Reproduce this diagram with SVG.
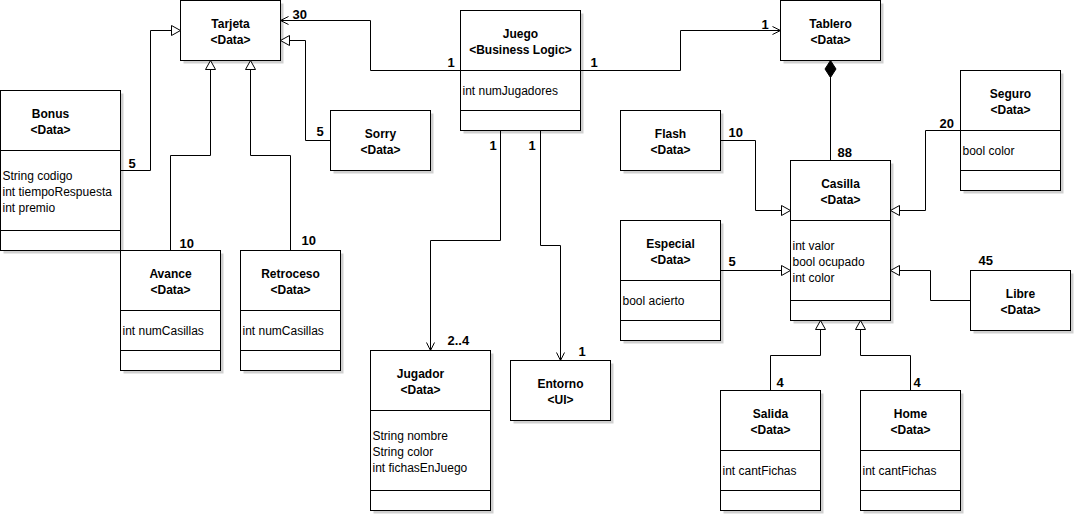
<svg xmlns="http://www.w3.org/2000/svg" width="1075" height="515" viewBox="0 0 1075 515">
<style>
.sh{fill:#d0d0d0;stroke:none}
.bx{fill:#fff;stroke:#000;stroke-width:1}
.sep{stroke:#000;stroke-width:1;fill:none}
.t{font-family:"Liberation Sans",Arial,sans-serif;font-size:12px;font-weight:bold;text-anchor:middle;fill:#000}
.a{font-family:"Liberation Sans",Arial,sans-serif;font-size:12px;fill:#000}
.m{font-family:"Liberation Sans",Arial,sans-serif;font-size:13px;font-weight:bold;fill:#000}
.c{fill:none;stroke:#000;stroke-width:1}
.assoc{marker-end:url(#open)}
.inh{marker-end:url(#tri)}
.comp{marker-end:url(#dia)}
</style>
<defs>
<marker id="open" markerUnits="userSpaceOnUse" markerWidth="10" markerHeight="10" refX="8" refY="4" orient="auto" overflow="visible"><path d="M0,0 L8,4 L0,8" fill="none" stroke="#000" stroke-width="1"/></marker>
<marker id="tri" markerUnits="userSpaceOnUse" markerWidth="12" markerHeight="12" refX="9" refY="5" orient="auto" overflow="visible"><path d="M0,0 L9,5 L0,10 Z" fill="#fff" stroke="#000" stroke-width="1"/></marker>
<marker id="dia" markerUnits="userSpaceOnUse" markerWidth="18" markerHeight="12" refX="17" refY="5.5" orient="auto" overflow="visible"><path d="M0,5.5 L8.5,0 L17,5.5 L8.5,11 Z" fill="#000" stroke="#000" stroke-width="1"/></marker>
</defs>
<g transform="translate(0.5,0.5)">
<g id="Tarjeta"><rect class="sh" x="183" y="3" width="100" height="60"/><rect class="bx" x="180" y="0" width="100" height="60"/><text class="t" x="230" y="27">Tarjeta</text><text class="t" x="230" y="43">&lt;Data&gt;</text></g>
<g id="Bonus"><rect class="sh" x="3" y="93" width="120" height="160"/><rect class="bx" x="0" y="90" width="120" height="160"/><path class="sep" d="M0,150 H120 M0,230 H120"/><text class="t" x="50" y="117">Bonus</text><text class="t" x="50" y="133">&lt;Data&gt;</text><text class="a" x="2" y="179">String codigo</text><text class="a" x="2" y="195">int tiempoRespuesta</text><text class="a" x="2" y="211">int premio</text></g>
<g id="Juego"><rect class="sh" x="463" y="13" width="120" height="120"/><rect class="bx" x="460" y="10" width="120" height="120"/><path class="sep" d="M460,70 H580 M460,110 H580"/><text class="t" x="520" y="37">Juego</text><text class="t" x="520" y="53">&lt;Business Logic&gt;</text><text class="a" x="462" y="94">int numJugadores</text></g>
<g id="Tablero"><rect class="sh" x="783" y="3" width="100" height="60"/><rect class="bx" x="780" y="0" width="100" height="60"/><text class="t" x="830" y="27">Tablero</text><text class="t" x="830" y="43">&lt;Data&gt;</text></g>
<g id="Sorry"><rect class="sh" x="333" y="113" width="100" height="60"/><rect class="bx" x="330" y="110" width="100" height="60"/><text class="t" x="380" y="137">Sorry</text><text class="t" x="380" y="153">&lt;Data&gt;</text></g>
<g id="Flash"><rect class="sh" x="623" y="113" width="100" height="60"/><rect class="bx" x="620" y="110" width="100" height="60"/><text class="t" x="670" y="137">Flash</text><text class="t" x="670" y="153">&lt;Data&gt;</text></g>
<g id="Seguro"><rect class="sh" x="963" y="73" width="100" height="120"/><rect class="bx" x="960" y="70" width="100" height="120"/><path class="sep" d="M960,130 H1060 M960,170 H1060"/><text class="t" x="1010" y="97">Seguro</text><text class="t" x="1010" y="113">&lt;Data&gt;</text><text class="a" x="962" y="154">bool color</text></g>
<g id="Casilla"><rect class="sh" x="793" y="163" width="100" height="160"/><rect class="bx" x="790" y="160" width="100" height="160"/><path class="sep" d="M790,220 H890 M790,300 H890"/><text class="t" x="840" y="187">Casilla</text><text class="t" x="840" y="203">&lt;Data&gt;</text><text class="a" x="792" y="249">int valor</text><text class="a" x="792" y="265">bool ocupado</text><text class="a" x="792" y="281">int color</text></g>
<g id="Especial"><rect class="sh" x="623" y="223" width="100" height="120"/><rect class="bx" x="620" y="220" width="100" height="120"/><path class="sep" d="M620,280 H720 M620,320 H720"/><text class="t" x="670" y="247">Especial</text><text class="t" x="670" y="263">&lt;Data&gt;</text><text class="a" x="622" y="304">bool acierto</text></g>
<g id="Libre"><rect class="sh" x="973" y="273" width="100" height="60"/><rect class="bx" x="970" y="270" width="100" height="60"/><text class="t" x="1020" y="297">Libre</text><text class="t" x="1020" y="313">&lt;Data&gt;</text></g>
<g id="Avance"><rect class="sh" x="123" y="253" width="100" height="120"/><rect class="bx" x="120" y="250" width="100" height="120"/><path class="sep" d="M120,310 H220 M120,350 H220"/><text class="t" x="170" y="277">Avance</text><text class="t" x="170" y="293">&lt;Data&gt;</text><text class="a" x="122" y="334">int numCasillas</text></g>
<g id="Retroceso"><rect class="sh" x="243" y="253" width="100" height="120"/><rect class="bx" x="240" y="250" width="100" height="120"/><path class="sep" d="M240,310 H340 M240,350 H340"/><text class="t" x="290" y="277">Retroceso</text><text class="t" x="290" y="293">&lt;Data&gt;</text><text class="a" x="242" y="334">int numCasillas</text></g>
<g id="Jugador"><rect class="sh" x="373" y="353" width="120" height="160"/><rect class="bx" x="370" y="350" width="120" height="160"/><path class="sep" d="M370,410 H490 M370,490 H490"/><text class="t" x="420" y="377">Jugador</text><text class="t" x="420" y="393">&lt;Data&gt;</text><text class="a" x="372" y="439">String nombre</text><text class="a" x="372" y="455">String color</text><text class="a" x="372" y="471">int fichasEnJuego</text></g>
<g id="Entorno"><rect class="sh" x="513" y="363" width="100" height="60"/><rect class="bx" x="510" y="360" width="100" height="60"/><text class="t" x="560" y="387">Entorno</text><text class="t" x="560" y="403">&lt;UI&gt;</text></g>
<g id="Salida"><rect class="sh" x="723" y="393" width="100" height="120"/><rect class="bx" x="720" y="390" width="100" height="120"/><path class="sep" d="M720,450 H820 M720,490 H820"/><text class="t" x="770" y="417">Salida</text><text class="t" x="770" y="433">&lt;Data&gt;</text><text class="a" x="722" y="474">int cantFichas</text></g>
<g id="Home"><rect class="sh" x="863" y="393" width="100" height="120"/><rect class="bx" x="860" y="390" width="100" height="120"/><path class="sep" d="M860,450 H960 M860,490 H960"/><text class="t" x="910" y="417">Home</text><text class="t" x="910" y="433">&lt;Data&gt;</text><text class="a" x="862" y="474">int cantFichas</text></g>
<g id="connectors">
<path class="c assoc" d="M460,70 H370 V20 H280"/>
<path class="c assoc" d="M580,70 H680 V30 H780"/>
<path class="c inh" d="M120,170 H150 V30 H180"/>
<path class="c inh" d="M330,140 H305 V40 H280"/>
<path class="c inh" d="M170,250 V155 H210 V60"/>
<path class="c inh" d="M290,250 V155 H250 V60"/>
<path class="c assoc" d="M500,130 V240 H430 V350"/>
<path class="c assoc" d="M540,130 V245 H560 V360"/>
<path class="c comp" d="M830,160 V60"/>
<path class="c inh" d="M720,140 H755 V210 H790"/>
<path class="c inh" d="M960,130 H925 V210 H890"/>
<path class="c inh" d="M720,270 H790"/>
<path class="c inh" d="M970,300 H930 V270 H890"/>
<path class="c inh" d="M770,390 V355 H820 V320"/>
<path class="c inh" d="M910,390 V355 H860 V320"/>
<text class="m" x="292" y="18">30</text>
<text class="m" x="447" y="66">1</text>
<text class="m" x="590" y="66">1</text>
<text class="m" x="761" y="28">1</text>
<text class="m" x="128" y="167">5</text>
<text class="m" x="316" y="135">5</text>
<text class="m" x="179" y="247">10</text>
<text class="m" x="301" y="244">10</text>
<text class="m" x="489" y="149">1</text>
<text class="m" x="528" y="149">1</text>
<text class="m" x="447" y="344">2..4</text>
<text class="m" x="578" y="355">1</text>
<text class="m" x="837" y="156">88</text>
<text class="m" x="728" y="136">10</text>
<text class="m" x="939" y="127">20</text>
<text class="m" x="728" y="265">5</text>
<text class="m" x="978" y="264">45</text>
<text class="m" x="776" y="386">4</text>
<text class="m" x="913" y="386">4</text>
</g>
</g>
</svg>
